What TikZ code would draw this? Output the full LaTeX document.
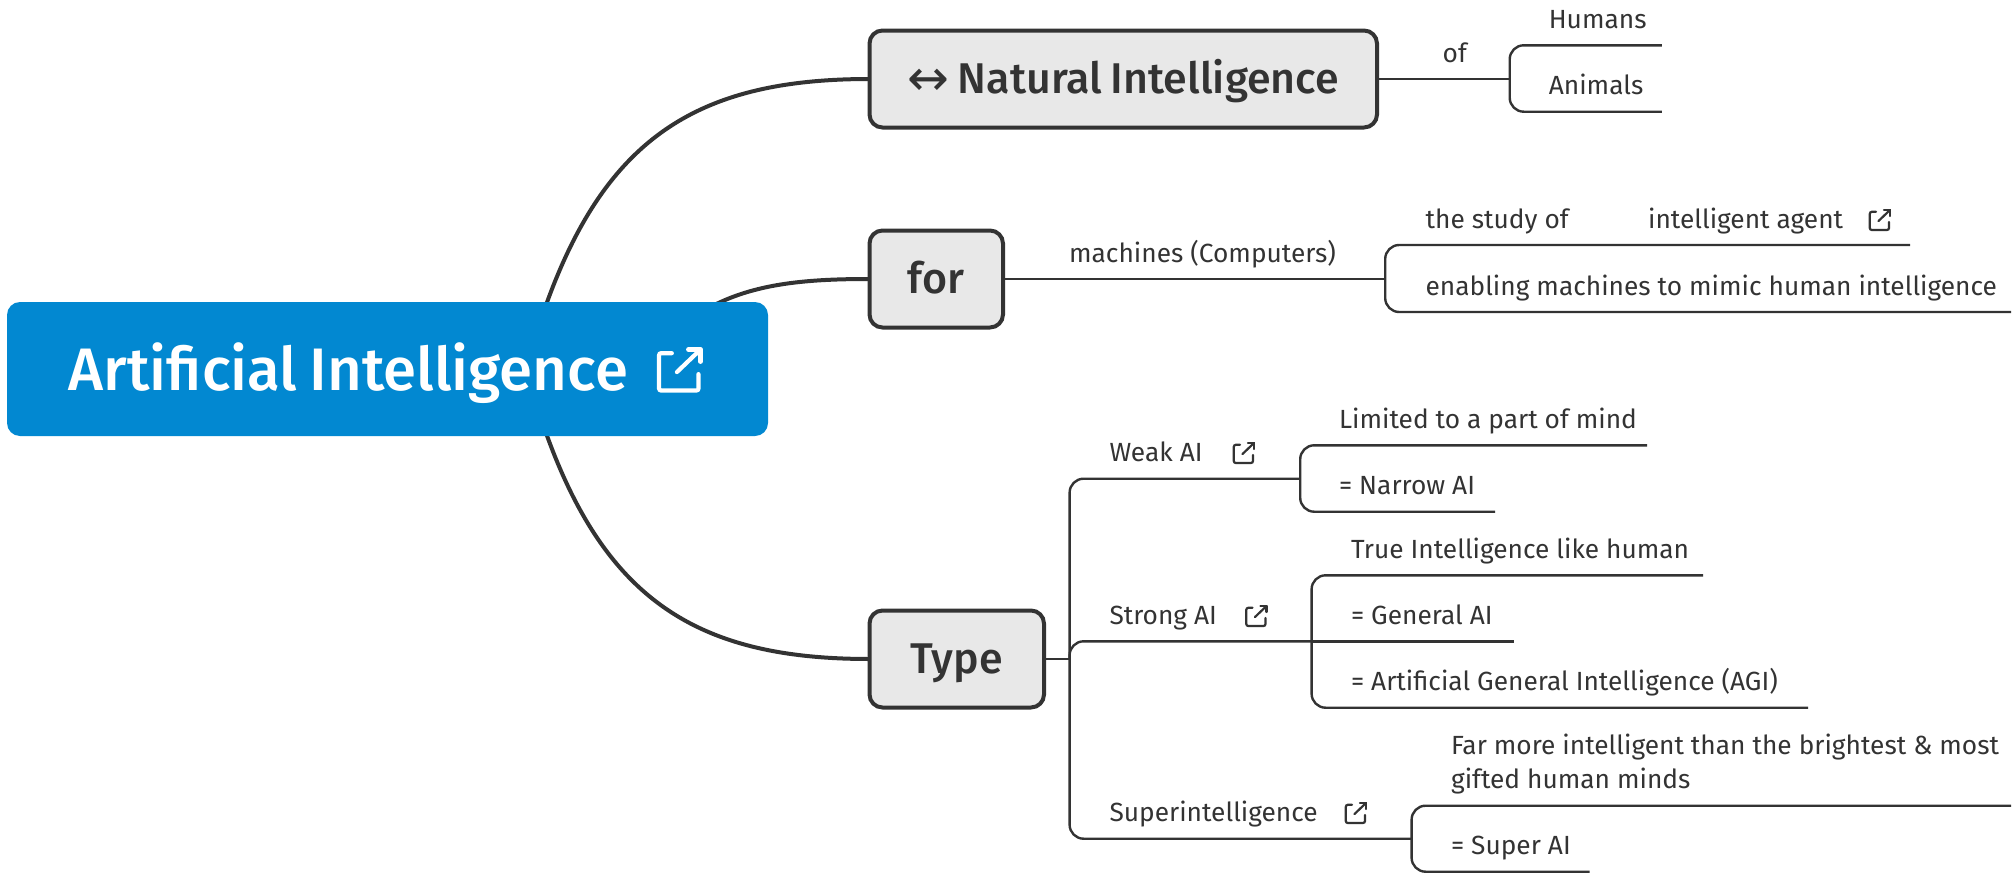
\documentclass[tikz,border=0pt]{standalone}
\usepackage{fontspec}
\setmainfont{Fira Sans}
\newfontfamily\headfont[WordSpace=0.8]{Fira Sans Medium}
\newfontfamily\symbfont{DejaVu Sans}
\usepackage{xcolor}
\usetikzlibrary{arrows.meta, positioning, calc, backgrounds}
\definecolor{ink}{HTML}{333333}
\definecolor{rootblue}{HTML}{0288D1}
\definecolor{boxgray}{HTML}{E8E8E8}
\tikzset{
  box/.style={
    rectangle, draw=ink, fill=boxgray, rounded corners=13pt, line width=4pt,
    minimum height=97pt, outer sep=0pt, text=ink, text height=29pt, text depth=0pt,
    font=\fontsize{43}{48}\selectfont\headfont
  },
  leaf/.style={
    anchor=south west, inner sep=0pt, xshift=-2pt, text width=#1, align=flush left,
    text height=20pt, text depth=15.8pt
  },
  twig/.style={line width=2.4pt, draw=ink, rounded corners=14pt},
  limb/.style={line width=4pt, draw=ink},
  linkicon/.pic={
    \draw[line cap=round, rounded corners=2pt] (-4,-8.2) -- (-10.2,-8.2) -- (-10.2,10) -- (9,10) -- (9,2);
    \draw[line cap=round] (-1.5,1) -- (10,-10);
    \draw[line cap=round, line join=round] (4,-10) -- (10,-10) -- (10,-4);
  }
}
\begin{document}
\begin{tikzpicture}[x=1pt, y=-1pt, text=ink, line width=2.2pt, color=ink,
  font=\fontsize{26.3}{34}\selectfont]
  \useasboundingbox (0,0) rectangle (2014,886);

  \node[rectangle, fill=rootblue, rounded corners=13pt, minimum width=761pt,
        minimum height=134pt, text=white, text height=43pt, text depth=0pt,
        font=\fontsize{60}{60}\selectfont\headfont] (root) at (387.5,369)
        {\hspace*{-78pt}Artificial Intelligence};
  \pic[color=white, line width=4.2pt, scale=2.05] at (680,370) {linkicon};

  \node[box, minimum width=507.5pt] (natural) at (1123.25,79)
        {\raisebox{-2pt}{\symbfont\fontsize{50}{48}\selectfont ↔} Natural Intelligence};
  \node[box, minimum width=133.5pt] (for) at (936.25,279) {for};
  \node[box, minimum width=174.5pt] (type) at (956.75,659) {Type};

  \node[leaf=65.9pt]  (of)       at (1443.6,79)    {of};
  \node[leaf=112pt]   (humans)   at (1549.7,45.3)  {Humans};
  \node[leaf=112pt]   (animals)  at (1549.7,111.7) {Animals};

  \node[leaf=315pt]   (machines) at (1070,279)     {machines (Computers)};
  \node[leaf=157pt]   (study)    at (1426.5,245)   {the study of};
  \node[leaf=261pt]   (agent)    at (1649,245)     {intelligent agent};
  \node[leaf=584.5pt] (enabling) at (1426.5,312)   {enabling machines to mimic human intelligence};

  \node[leaf=189.6pt] (weak)     at (1110.4,478.7) {Weak AI};
  \node[leaf=307pt]   (limited)  at (1340,445.3)   {Limited to a part of mind};
  \node[leaf=155pt]   (narrow)   at (1340,511.7)   {= Narrow AI};

  \node[leaf=201pt]   (strong)   at (1110.4,641.3) {Strong AI};
  \node[leaf=351pt]   (true)     at (1352,575.3)   {True Intelligence like human};
  \node[leaf=161.5pt] (general)  at (1352,641.3)   {= General AI};
  \node[leaf=456pt]   (agi)      at (1352,707.7)   {= Artificial General Intelligence (AGI)};

  \node[leaf=301pt]   (super)    at (1110.4,838.7) {Superintelligence};
  \node[leaf=559pt, text height=, text depth=, inner ysep=11pt] (far) at (1452,805.7)
        {Far more intelligent than the brightest \& most\\gifted human minds};
  \node[leaf=137.5pt] (superai)  at (1452,871.7)   {= Super AI};

  \foreach \x/\y in {1880/220,1244/453,1256.5/616,1356/813}
    \pic at (\x,\y) {linkicon};

  \coordinate (hubtop) at (526,369);
  \coordinate (hubfor) at (640,369);
  \coordinate (trunk)  at (1069.6,659);

  \begin{scope}[on background layer]
    \draw[limb] (hubtop) .. controls (586,150) and (680,79) .. (natural.west);
    \draw[limb] (hubfor) .. controls (700,290) and (770,279) .. (for.west);
    \draw[limb] (hubtop) .. controls (586,588) and (680,659) .. (type.west);
  \end{scope}

  \draw[twig] (natural.east) -- (of.south east);
  \draw[twig] (humans.south east) -| (of.south east) |- (animals.south east);

  \draw[twig] (for.east) -- (machines.south east);
  \draw[twig] (agent.south east) -| (machines.south east) |- (enabling.south east);

  \draw[twig] (type.east) -- (trunk);
  \draw[twig] (weak.south east) -| (trunk) |- (super.south east);
  \draw[twig] (trunk) |- (strong.south east);
  \draw[twig] (limited.south east) -| (weak.south east) |- (narrow.south east);
  \draw[twig] (true.south east) -| (strong.south east) |- (agi.south east);
  \draw[twig] (strong.south east) -- (general.south east);
  \draw[twig] (far.south east) -| (super.south east) |- (superai.south east);
\end{tikzpicture}
\end{document}
